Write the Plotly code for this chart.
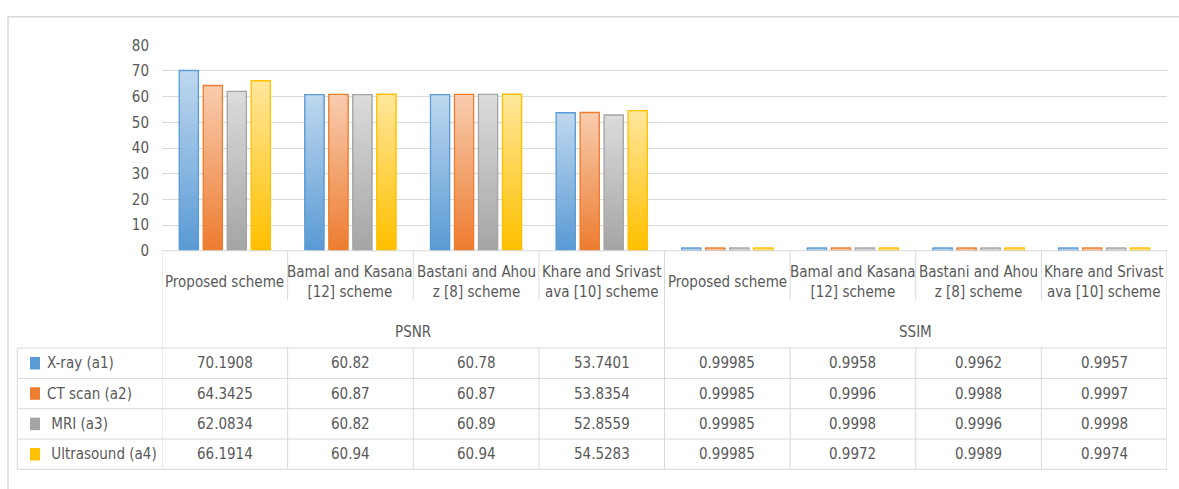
import plotly.graph_objects as go

# ---------------- data ----------------
categories = ["Proposed scheme", "Bamal and Kasana<br>[12] scheme", "Bastani and Ahou<br>z [8] scheme",
              "Khare and Srivast<br>ava [10] scheme"]
groups = ["PSNR", "SSIM"]
series_names = ["X-ray (a1)", "CT scan (a2)", " MRI (a3)", " Ultrasound (a4)"]
xray = [70.1908, 60.82, 60.78, 53.7401, 0.99985, 0.9958, 0.9962, 0.9957]
ct_scan = [64.3425, 60.87, 60.87, 53.8354, 0.99985, 0.9996, 0.9988, 0.9997]
mri = [62.0834, 60.82, 60.89, 52.8559, 0.99985, 0.9998, 0.9996, 0.9998]
ultrasound = [66.1914, 60.94, 60.94, 54.5283, 0.99985, 0.9972, 0.9989, 0.9974]
y_ticks = [0, 10, 20, 30, 40, 50, 60, 70, 80]

# ---------------- style ----------------
W, H = 1179, 489
FONT = "DejaVu Sans Condensed, Liberation Sans Narrow, sans-serif"
TXT = "#595959"
GRID = "#D9D9D9"
FS = 15
base_cols = [(91, 155, 213), (237, 125, 49), (165, 165, 165), (255, 192, 0)]
top_cols = [(189, 215, 238), (248, 203, 173), (219, 219, 219), (255, 230, 153)]
edge_cols = ["#5B9BD5", "#ED7D31", "#A5A5A5", "#FFC000"]


def py(p):
    return 1 - p / H


def px(p):
    return p / W


X0, X1 = 162, 1167          # plot area pixel x
Y0, Y80 = 251, 37.7         # pixel y of 0 and 80
Y_CATSEP = 302
Y_HDR = 352
ROW_H = (478 - 352) / 4
LEFT = 17.3

all_cats = categories + categories
n = len(all_cats)
idx = list(range(n))
series = [xray, ct_scan, mri, ultrasound]

fig = go.Figure()
NSEG = 30
for s, vals in enumerate(series):
    b, t = base_cols[s], top_cols[s]
    for k in range(NSEG):
        f = k / (NSEG - 1)
        c = tuple(round(b[j] + (t[j] - b[j]) * f) for j in range(3))
        fig.add_bar(x=idx, y=[v * (NSEG - k) / NSEG for v in vals], base=[v * k / NSEG for v in vals],
                    offsetgroup=str(s), marker=dict(color="rgb(%d,%d,%d)" % c, line=dict(width=0)),
                    showlegend=False, hoverinfo="skip")
    fig.add_bar(x=idx, y=vals, offsetgroup=str(s), name=series_names[s].strip(),
                marker=dict(color="rgba(0,0,0,0)", line=dict(color=edge_cols[s], width=1.3)),
                showlegend=False)

shapes = []
line = dict(color=GRID, width=1)
# outer chart frame
shapes.append(dict(type="rect", xref="paper", yref="paper", x0=px(8), x1=1.05, y0=-0.05, y1=py(8),
                   line=dict(color=GRID, width=1.5), fillcolor="rgba(0,0,0,0)", layer="below"))
# top of table (category axis line)
shapes.append(dict(type="line", xref="x", yref="paper", x0=-0.5, x1=n - 0.5, y0=py(Y0), y1=py(Y0), line=line))
# vertical lines
for i in range(n + 1):
    xv = i - 0.5
    if i % len(categories) == 0:
        shapes.append(dict(type="line", xref="x", yref="paper", x0=xv, x1=xv, y0=py(Y0), y1=py(478), line=line))
    else:
        shapes.append(dict(type="line", xref="x", yref="paper", x0=xv, x1=xv, y0=py(Y0), y1=py(Y_CATSEP), line=line))
        shapes.append(dict(type="line", xref="x", yref="paper", x0=xv, x1=xv, y0=py(Y_HDR), y1=py(478), line=line))
# horizontal row lines
for r in range(len(series) + 1):
    yy = Y_HDR + r * ROW_H
    shapes.append(dict(type="line", xref="paper", yref="paper", x0=px(LEFT), x1=px(X1), y0=py(yy), y1=py(yy), line=line))
shapes.append(dict(type="line", xref="paper", yref="paper", x0=px(LEFT), x1=px(LEFT), y0=py(Y_HDR), y1=py(478), line=line))

annotations = []
fnt = dict(family=FONT, size=FS, color=TXT)
# category labels
for i, c in enumerate(all_cats):
    annotations.append(dict(x=i, xref="x", y=py(283), yref="paper", text=c, showarrow=False,
                            font=fnt, xanchor="center", yanchor="middle", align="center"))
# group labels
for g, name in enumerate(groups):
    annotations.append(dict(x=g * len(categories) + (len(categories) - 1) / 2, xref="x", y=py(335), yref="paper",
                            text=name, showarrow=False, font=fnt, xanchor="center", yanchor="middle"))
# table rows
for r, vals in enumerate(series):
    yc = Y_HDR + (r + 0.5) * ROW_H
    shapes.append(dict(type="rect", xref="paper", yref="paper", x0=px(30), x1=px(40), y0=py(yc + 6.5), y1=py(yc - 6.5),
                       fillcolor=edge_cols[r], line=dict(width=0)))
    annotations.append(dict(x=px(45), xref="paper", y=py(yc), yref="paper",
                            text=series_names[r].replace(" ", "\u00a0"), showarrow=False, font=fnt,
                            xanchor="left", yanchor="middle"))
    for i, v in enumerate(vals):
        annotations.append(dict(x=i, xref="x", y=py(yc), yref="paper", text=str(v), showarrow=False,
                                font=fnt, xanchor="center", yanchor="middle"))

fig.update_layout(
    width=W, height=H, margin=dict(l=0, r=0, t=0, b=0),
    paper_bgcolor="white", plot_bgcolor="white",
    barmode="group", bargap=0.236, bargroupgap=0.2,
    xaxis=dict(domain=[px(X0), px(X1)], range=[-0.5, n - 0.5], showticklabels=False, showgrid=False,
               zeroline=False, showline=False, fixedrange=True),
    yaxis=dict(domain=[py(Y0), py(Y80)], range=[0, 80], tickvals=y_ticks, showgrid=True, gridcolor=GRID,
               gridwidth=1, zeroline=False, showline=False, ticks="", ticklabelstandoff=12,
               tickfont=dict(family=FONT, size=FS, color=TXT), fixedrange=True),
    shapes=shapes, annotations=annotations, showlegend=False,
)

fig.write_html("out.html")
